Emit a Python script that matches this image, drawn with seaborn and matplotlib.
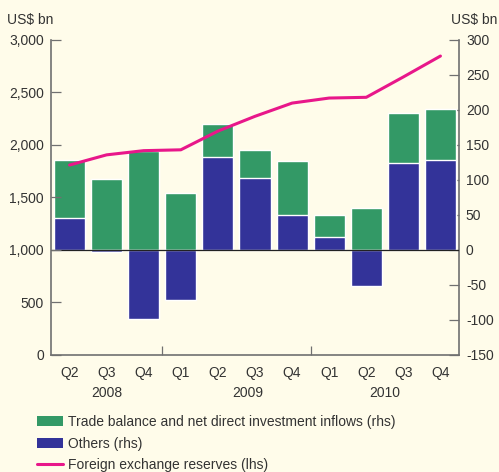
import numpy as np
import pandas as pd
import matplotlib
matplotlib.use("Agg")
import matplotlib.pyplot as plt
import seaborn as sns
from matplotlib.patches import Patch
from matplotlib.lines import Line2D

# Data
quarters = ['Q2', 'Q3', 'Q4', 'Q1', 'Q2', 'Q3', 'Q4', 'Q1', 'Q2', 'Q3', 'Q4']
years = ['2008', '2008', '2008', '2009', '2009', '2009', '2009', '2010', '2010', '2010', '2010']
trade_fdi = [82, 101, 141, 81, 47, 40, 77, 32, 60, 72, 72]        # rhs, US$ bn
others = [46, -3, -98, -72, 133, 103, 50, 18, -51, 124, 129]      # rhs, US$ bn
reserves = [1809, 1906, 1946, 1954, 2132, 2273, 2399, 2447, 2454, 2648, 2847]  # lhs, US$ bn

year_labels = ['2008', '2009', '2010']
year_label_pos = [1, 4.8, 8.5]
year_breaks = [2.5, 6.5]

df = pd.DataFrame({
    'period': [f'{y} {q}' for y, q in zip(years, quarters)],
    'trade': trade_fdi,
    'others': others,
    'reserves': reserves,
})
# green segment sits on top of positive "others", otherwise starts at zero
df['green_top'] = df['others'].clip(lower=0) + df['trade']
df['pos'] = np.arange(len(df))

green = '#339966'
blue = '#333399'
pink = '#e8178a'
bg = '#fffcea'
txt = '#333333'
spine_c = '#707070'

sns.set_theme(style='white')
plt.rcParams['font.family'] = ['Liberation Sans', 'DejaVu Sans']
plt.rcParams['axes.unicode_minus'] = False

fig = plt.figure(figsize=(4.99, 4.72), dpi=100, facecolor=bg)
ax = fig.add_axes([0.1022, 0.2479, 0.8176, 0.6674])
ax.set_facecolor(bg)
ax2 = ax.twinx()  # lhs scale for the reserves line (drawn on top)

order = list(df['period'])
sns.barplot(data=df, x='period', y='green_top', order=order, color=green,
            width=0.84, saturation=1, ax=ax, zorder=2)
sns.barplot(data=df, x='period', y='others', order=order, color=blue,
            width=0.84, saturation=1, ax=ax, zorder=3)
ax.axhline(0, color='#222222', lw=0.9, zorder=4)

ax.set_ylim(-150, 300)
ax.set_xlim(-0.5, len(df) - 0.5)
ax.set_yticks(np.arange(-150, 301, 50))
ax.yaxis.tick_right()
ax.set_xlabel('')
ax.set_ylabel('')
ax.set_xticks(df['pos'])
ax.set_xticklabels(quarters)
ax.set_xticks(np.arange(0.5, len(df) - 1, 1), minor=True)
ax.tick_params(axis='x', which='major', length=0, pad=8, labelsize=10, labelcolor=txt)
ax.tick_params(axis='x', which='minor', length=3.6, width=0.9, direction='in', color=spine_c)
ax.tick_params(axis='y', which='major', length=7, width=0.9, direction='in',
               pad=5, labelsize=10, labelcolor=txt, color=spine_c,
               right=True, left=False, labelright=True, labelleft=False)

# longer ticks at year boundaries + year labels
sec = ax.secondary_xaxis('bottom')
sec.set_xticks(year_label_pos)
sec.set_xticklabels(year_labels)
sec.set_xticks(year_breaks, minor=True)
sec.tick_params(which='major', length=0, pad=22, labelsize=10, labelcolor=txt)
sec.tick_params(which='minor', length=6.5, width=0.9, direction='in', color=spine_c)
sec.spines['bottom'].set_visible(False)

for s in ['top', 'left']:
    ax.spines[s].set_visible(False)
for s in ['right', 'bottom']:
    ax.spines[s].set_color(spine_c)
    ax.spines[s].set_linewidth(1.2)

sns.lineplot(x=df['pos'], y=df['reserves'], color=pink, lw=2.2, ax=ax2, zorder=5)
ax2.set_xlim(-0.5, len(df) - 0.5)
ax2.set_ylim(0, 3000)
ax2.set_yticks(np.arange(0, 3001, 500))
ax2.set_yticklabels([f'{v:,}' for v in range(0, 3001, 500)])
ax2.yaxis.tick_left()
ax2.set_ylabel('')
ax2.set_xlabel('')
ax2.tick_params(axis='y', length=7, width=0.9, direction='in', pad=5,
                labelsize=10, labelcolor=txt, color=spine_c,
                left=True, right=False, labelleft=True, labelright=False)
for s in ['top', 'right', 'bottom']:
    ax2.spines[s].set_visible(False)
ax2.spines['left'].set_color(spine_c)
ax2.spines['left'].set_linewidth(1.2)

fig.text(0.014, 0.957, 'US$ bn', fontsize=10, color=txt, va='center')
fig.text(0.996, 0.957, 'US$ bn', fontsize=10, color=txt, va='center', ha='right')

handles = [
    Patch(facecolor=green, edgecolor='none', label='Trade balance and net direct investment inflows (rhs)'),
    Patch(facecolor=blue, edgecolor='none', label='Others (rhs)'),
    Line2D([0], [0], color=pink, lw=2.2, label='Foreign exchange reserves (lhs)'),
]
leg = fig.legend(handles=handles, loc='upper left', bbox_to_anchor=(0.074, 0.121),
                 frameon=False, fontsize=10, handlelength=1.9, handleheight=0.75,
                 handletextpad=0.35, labelspacing=0.55, borderaxespad=0, borderpad=0)
for t in leg.get_texts():
    t.set_color(txt)

fig.savefig('out.png', dpi=100, facecolor=bg)
